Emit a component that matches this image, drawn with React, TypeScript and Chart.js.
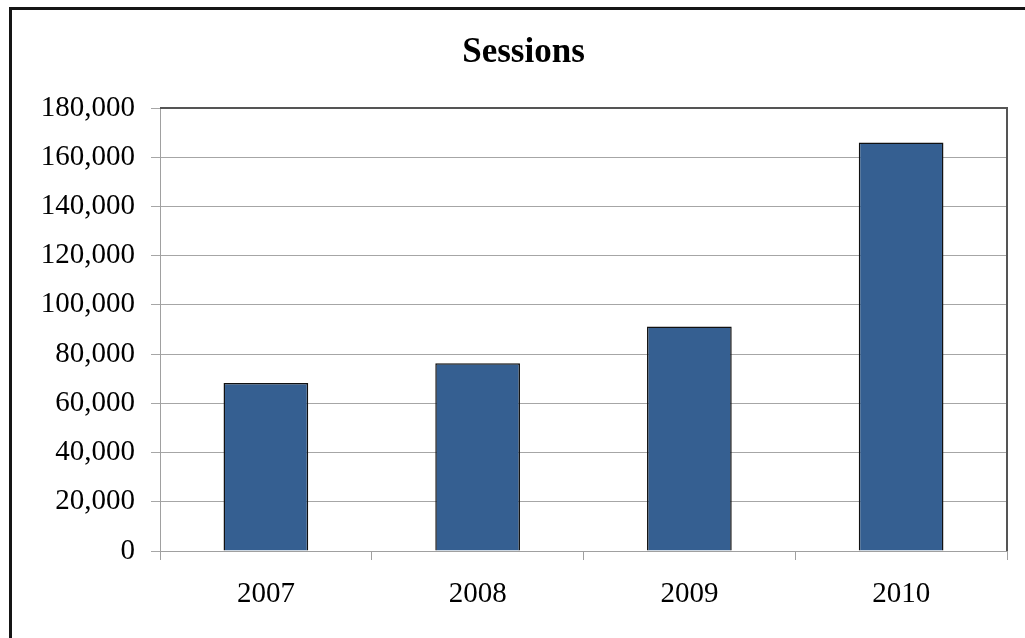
import React, { useEffect, useRef } from "react";
import { Chart, registerables } from "chart.js";

Chart.register(...registerables);

const chartTitle = "Sessions";
const years = ["2007", "2008", "2009", "2010"];
const sessions = [68300, 76300, 91200, 166000];
const yMin = 0;
const yMax = 180000;
const yStep = 20000;

const serif = "'Liberation Serif', 'Times New Roman', serif";

// Darker top and right edges of the plot frame
const plotFrame = {
  id: "plotFrame",
  afterDatasetsDraw(chart: any) {
    const { ctx, chartArea } = chart;
    ctx.save();
    ctx.strokeStyle = "#555555";
    ctx.lineWidth = 2;
    ctx.beginPath();
    ctx.moveTo(chartArea.left, chartArea.top);
    ctx.lineTo(chartArea.right, chartArea.top);
    ctx.lineTo(chartArea.right, chartArea.bottom);
    ctx.stroke();
    ctx.restore();
  },
};

export default function App() {
  const canvasRef = useRef<HTMLCanvasElement | null>(null);

  useEffect(() => {
    const canvas = canvasRef.current;
    if (!canvas) return;
    const chart = new Chart(canvas, {
      type: "bar",
      data: {
        labels: years,
        datasets: [
          {
            label: chartTitle,
            data: sessions,
            backgroundColor: "#355F91",
            borderColor: "#111111",
            borderWidth: 1.5,
            barPercentage: 0.4,
            categoryPercentage: 1,
          },
        ],
      },
      options: {
        responsive: false,
        animation: false,
        layout: { padding: { left: 40, right: 18, top: 0, bottom: 0 } },
        plugins: {
          legend: { display: false },
          tooltip: { enabled: false },
          title: {
            display: true,
            text: chartTitle,
            color: "#000000",
            font: { family: serif, size: 35, weight: "bold", lineHeight: "40px" },
            padding: { top: 33, bottom: 35 },
          },
        },
        scales: {
          x: {
            offset: true,
            grid: {
              offset: true,
              drawOnChartArea: false,
              drawTicks: true,
              tickLength: 9,
              color: "#A0A0A0",
            },
            border: { color: "#A0A0A0", width: 1 },
            ticks: {
              color: "#000000",
              padding: 17,
              font: { family: serif, size: 29 },
            },
            afterFit(scale: any) {
              scale.height = 87;
            },
          },
          y: {
            min: yMin,
            max: yMax,
            grid: {
              color: "#A6A6A6",
              drawTicks: true,
              tickLength: 9,
            },
            border: { color: "#A0A0A0", width: 1 },
            ticks: {
              stepSize: yStep,
              color: "#000000",
              padding: 16,
              font: { family: serif, size: 29 },
              callback: (v: any) => Number(v).toLocaleString("en-US"),
            },
            afterFit(scale: any) {
              scale.width = 120;
            },
          },
        },
      },
      plugins: [plotFrame],
    });
    return () => chart.destroy();
  }, []);

  return (
    <div
      style={{
        position: "fixed",
        left: 0,
        top: 0,
        width: 1025,
        height: 638,
        background: "#ffffff",
        overflow: "hidden",
      }}
    >
      <div
        style={{
          position: "absolute",
          left: 9,
          top: 7,
          width: 1040,
          height: 660,
          border: "3px solid #151515",
        }}
      />
      <canvas
        ref={canvasRef}
        width={1025}
        height={638}
        style={{ position: "absolute", left: 0, top: 0 }}
      />
    </div>
  );
}
